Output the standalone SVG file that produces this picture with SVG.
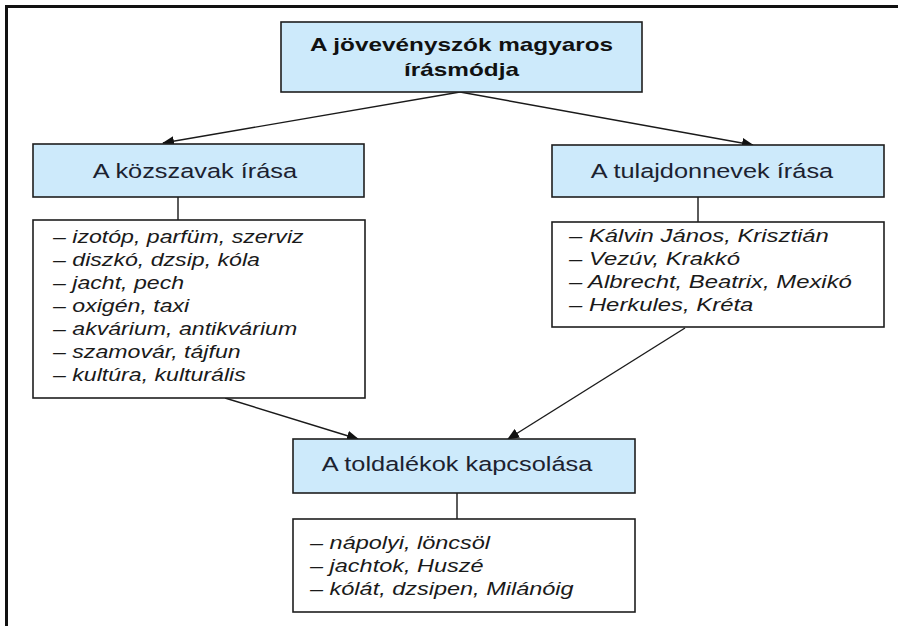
<svg xmlns="http://www.w3.org/2000/svg" width="898" height="626" viewBox="0 0 898 626">
<defs>
<style>
.box{fill:#cdeafb;stroke:#1e1e1e;stroke-width:1.6}
.list{fill:#ffffff;stroke:#1e1e1e;stroke-width:1.6}
.lbl{font-family:"Liberation Sans",Arial,sans-serif;font-size:19.5px;fill:#1c2230;text-anchor:middle}
.ttl{font-family:"Liberation Sans",Arial,sans-serif;font-size:19px;font-weight:bold;fill:#111;text-anchor:middle}
.itm{font-family:"Liberation Sans",Arial,sans-serif;font-size:18.5px;font-style:italic;fill:#1a1a1a}
.con{stroke:#1a1a1a;stroke-width:1.4;fill:none}
.stem{stroke:#333;stroke-width:1.6}
</style>
<marker id="ah" markerWidth="12" markerHeight="10" refX="11" refY="5" orient="auto" markerUnits="userSpaceOnUse">
<path d="M0,0 L12,5 L0,10 Z" fill="#111"/>
</marker>
</defs>
<rect x="0" y="0" width="898" height="626" fill="#ffffff"/>
<g id="frame">
<line x1="5" y1="6.5" x2="898" y2="6.5" stroke="#111" stroke-width="3"/>
<line x1="6.5" y1="5" x2="6.5" y2="626" stroke="#111" stroke-width="3"/>
</g>
<g id="connectors">
<line class="con" x1="460" y1="92" x2="163" y2="143" marker-end="url(#ah)"/>
<line class="con" x1="460" y1="92" x2="753" y2="145" marker-end="url(#ah)"/>
<line class="con" x1="225" y1="398" x2="358" y2="439" marker-end="url(#ah)"/>
<line class="con" x1="685" y1="328" x2="508" y2="439" marker-end="url(#ah)"/>
<line class="stem" x1="178" y1="197" x2="178" y2="220"/>
<line class="stem" x1="698" y1="197" x2="698" y2="222"/>
<line class="stem" x1="457" y1="493" x2="457" y2="519"/>
</g>
<g id="title">
<rect class="box" x="281" y="22" width="361" height="70"/>
<text class="ttl" transform="translate(461.5,51) scale(1.28,1)">A jövevényszók magyaros</text>
<text class="ttl" transform="translate(461.5,76) scale(1.28,1)">írásmódja</text>
</g>
<g id="kozszavak">
<rect class="box" x="33" y="144" width="331" height="53"/>
<text class="lbl" transform="translate(195,178) scale(1.3,1)">A közszavak írása</text>
</g>
<g id="kozszavak-list">
<rect class="list" x="33" y="220" width="332" height="178"/>
<g class="itm" transform="translate(53,0) scale(1.25,1)">
<text x="0" y="243">– izotóp, parfüm, szerviz</text>
<text x="0" y="266">– diszkó, dzsip, kóla</text>
<text x="0" y="289">– jacht, pech</text>
<text x="0" y="312">– oxigén, taxi</text>
<text x="0" y="335">– akvárium, antikvárium</text>
<text x="0" y="358">– szamovár, tájfun</text>
<text x="0" y="381">– kultúra, kulturális</text>
</g>
</g>
<g id="tulajdonnevek">
<rect class="box" x="552" y="145" width="332" height="52"/>
<text class="lbl" transform="translate(712,178) scale(1.3,1)">A tulajdonnevek írása</text>
</g>
<g id="tulajdonnevek-list">
<rect class="list" x="552" y="222" width="332" height="105"/>
<g class="itm" transform="translate(569,0) scale(1.29,1)">
<text x="0" y="242">– Kálvin János, Krisztián</text>
<text x="0" y="265">– Vezúv, Krakkó</text>
<text x="0" y="288">– Albrecht, Beatrix, Mexikó</text>
<text x="0" y="311">– Herkules, Kréta</text>
</g>
</g>
<g id="toldalekok">
<rect class="box" x="293" y="439" width="342" height="54"/>
<text class="lbl" transform="translate(457,471) scale(1.3,1)">A toldalékok kapcsolása</text>
</g>
<g id="toldalekok-list">
<rect class="list" x="293" y="519" width="342" height="93"/>
<g class="itm" transform="translate(310,0) scale(1.27,1)">
<text x="0" y="549">– nápolyi, löncsöl</text>
<text x="0" y="572">– jachtok, Huszé</text>
<text x="0" y="595">– kólát, dzsipen, Milánóig</text>
</g>
</g>
</svg>
